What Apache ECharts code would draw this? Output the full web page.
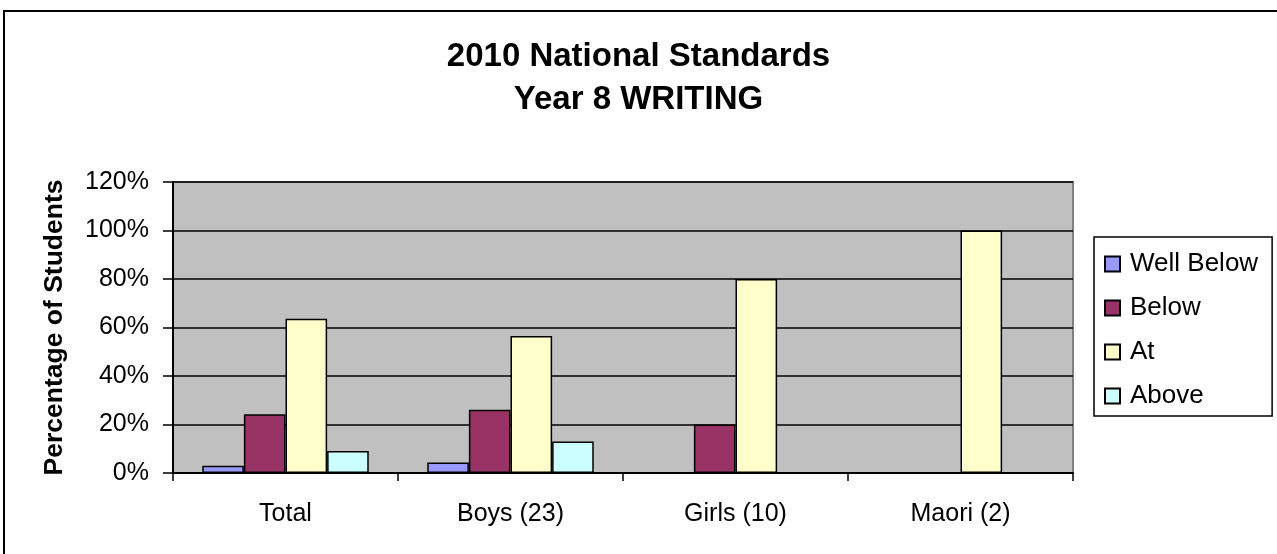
<!DOCTYPE html>
<html>
<head>
<meta charset="utf-8">
<script src="https://cdn.jsdelivr.net/npm/echarts@6/dist/echarts.min.js"></script>
<style>
html,body{margin:0;padding:0;background:#fff;}
#c{width:1277px;height:554px;}
</style>
</head>
<body>
<div id="c"></div>
<script>
const categories = ['Total', 'Boys (23)', 'Girls (10)', 'Maori (2)'];
const wellBelow = [0.03, 0.043, 0, 0];
const below = [0.242, 0.261, 0.20, 0];
const at = [0.636, 0.565, 0.80, 1.00];
const above = [0.091, 0.130, 0, 0];
const seriesNames = ['Well Below', 'Below', 'At', 'Above'];
const seriesColors = ['#9999FF', '#993366', '#FFFFCC', '#CCFFFF'];
const yTicks = [0, 0.2, 0.4, 0.6, 0.8, 1.0, 1.2];

const FONT = '"Liberation Sans", Arial, sans-serif';
const chart = echarts.init(document.getElementById('c'));
const values = [wellBelow, below, at, above];

chart.setOption({
  animation: false,
  backgroundColor: '#fff',
  textStyle: {fontFamily: FONT},
  title: {
    text: '2010 National Standards\nYear 8 WRITING',
    left: 'center',
    top: 30,
    textStyle: {fontFamily: FONT, fontSize: 33, fontWeight: 'bold', color: '#000', lineHeight: 43}
  },
  graphic: [{
    type: 'rect',
    shape: {x: 4, y: 11, width: 1300, height: 600},
    style: {fill: 'none', stroke: '#000', lineWidth: 2},
    silent: true
  }],
  legend: {
    orient: 'vertical',
    left: 1094,
    top: 237,
    padding: [14, 14, 7, 10],
    itemGap: 18,
    itemWidth: 15,
    itemHeight: 15,
    borderColor: '#000',
    borderWidth: 1.5,
    icon: 'rect',
    textStyle: {fontFamily: FONT, fontSize: 26, color: '#000', lineHeight: 25, padding: [0, 0, 0, 5]},
    data: seriesNames
  },
  grid: {
    left: 173, top: 182, width: 900, height: 291,
    show: true, backgroundColor: '#C0C0C0', borderColor: '#808080', borderWidth: 2
  },
  xAxis: {
    type: 'category',
    data: categories,
    axisLine: {lineStyle: {color: '#000', width: 2}},
    axisTick: {show: true, length: 8, lineStyle: {color: '#000', width: 1.5}},
    axisLabel: {fontFamily: FONT, fontSize: 25, color: '#000', margin: 29}
  },
  yAxis: {
    type: 'value',
    min: 0, max: 1.2, interval: 0.2,
    name: 'Percentage of Students',
    nameLocation: 'middle',
    nameGap: 105,
    nameTextStyle: {fontFamily: FONT, fontSize: 26.5, fontWeight: 'bold', color: '#000'},
    axisLine: {show: true, lineStyle: {color: '#000', width: 2}},
    axisTick: {show: true, length: 10, lineStyle: {color: '#000', width: 1.5}},
    axisLabel: {
      fontFamily: FONT, fontSize: 25, color: '#000', margin: 24,
      formatter: v => Math.round(v * 100) + '%'
    },
    splitLine: {show: true, lineStyle: {color: '#000', width: 1.5}}
  },
  series: seriesNames.map((n, i) => ({
    name: n,
    type: 'bar',
    data: values[i],
    barGap: '0%',
    barCategoryGap: '26%',
    itemStyle: {color: seriesColors[i], borderColor: '#000', borderWidth: 1.5}
  }))
});
</script>
</body>
</html>
